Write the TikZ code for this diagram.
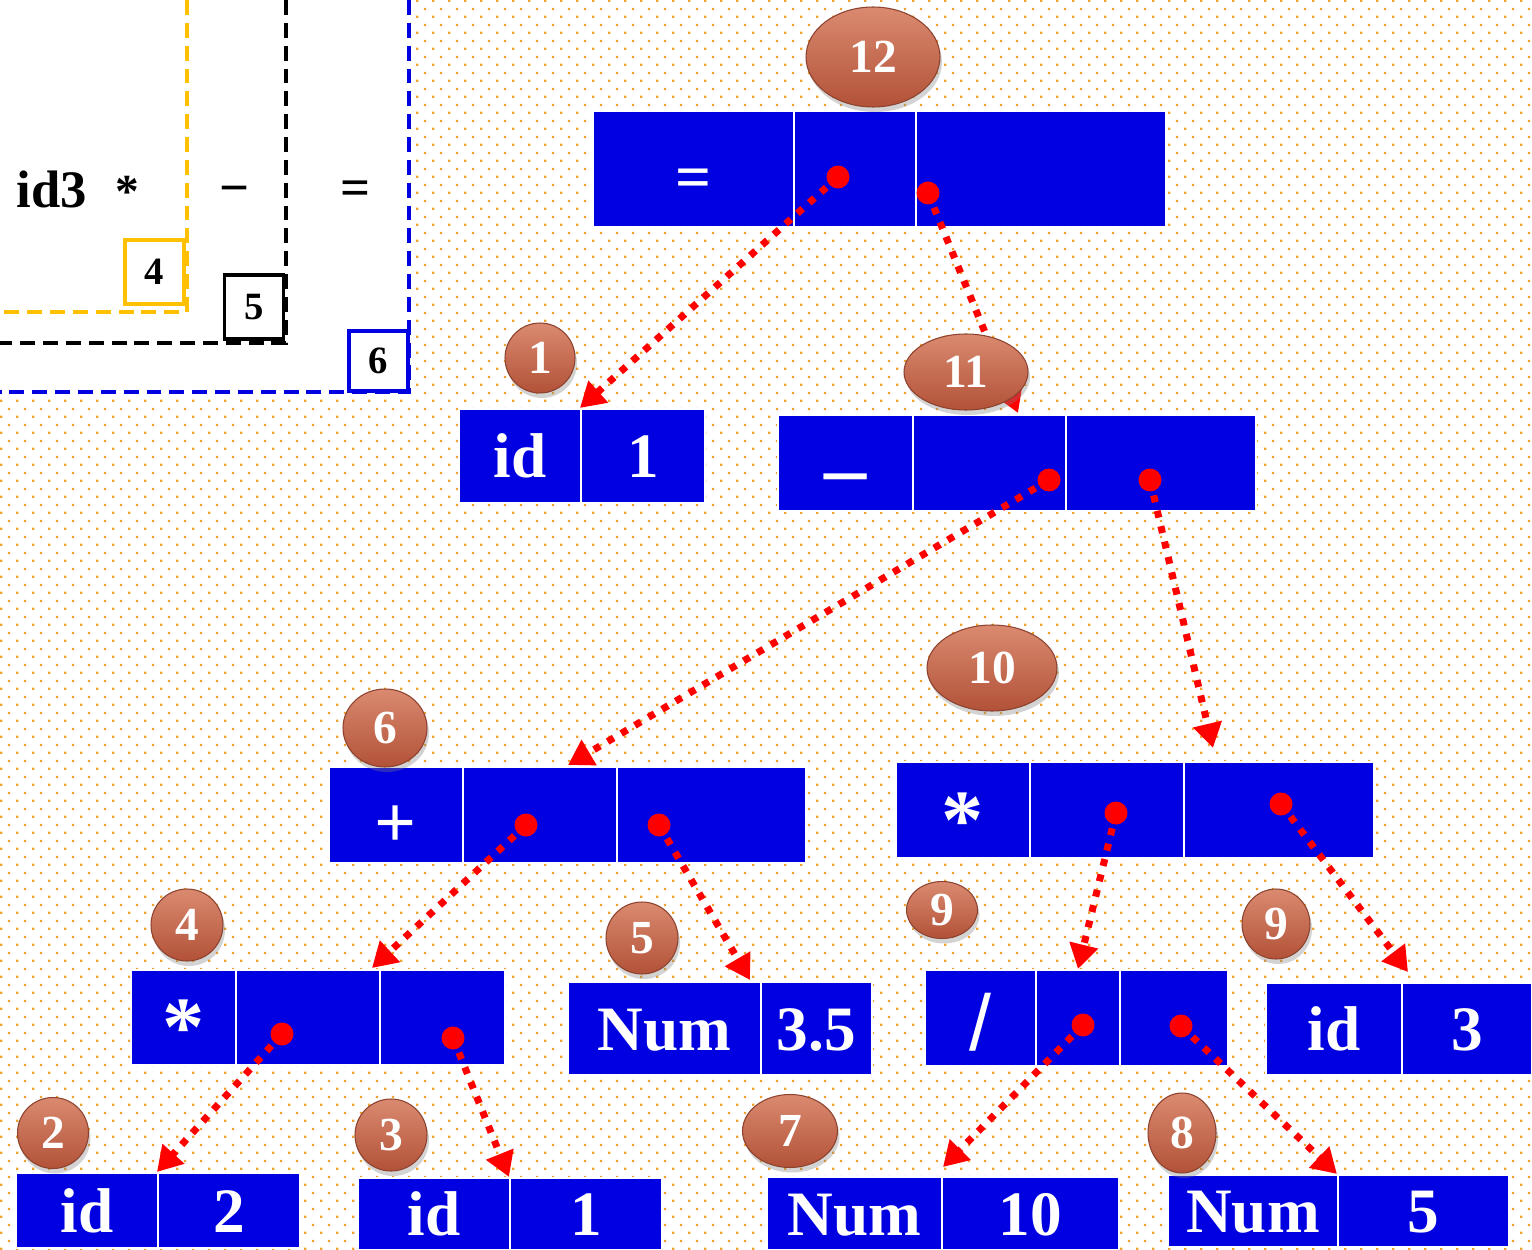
\documentclass[tikz,border=0pt]{standalone}
\usepackage{fontspec}
\setmainfont{Liberation Serif}
\newfontfamily\arialfam{Liberation Sans}
\usepackage{tikz}
\usetikzlibrary{arrows.meta}
\usetikzlibrary{shapes,shadows,patterns}
\usepackage{xcolor}

\definecolor{recblue}{RGB}{0,0,225}
\definecolor{dotorange}{RGB}{238,162,48}
\definecolor{tagyellow}{RGB}{255,192,0}
\definecolor{bubtop}{RGB}{218,138,112}
\definecolor{bubbot}{RGB}{178,82,56}
\definecolor{bubrim}{RGB}{140,66,46}

% small orange dots on a staggered grid
\pgfdeclarepatternformonly{orange dots}{\pgfqpoint{0pt}{0pt}}{\pgfqpoint{9.07pt}{9.07pt}}{\pgfqpoint{9.07pt}{9.07pt}}{%
  \pgfpathrectangle{\pgfqpoint{0pt}{0pt}}{\pgfqpoint{1.3pt}{1.3pt}}%
  \pgfpathrectangle{\pgfqpoint{4.535pt}{4.535pt}}{\pgfqpoint{1.3pt}{1.3pt}}%
  \pgfusepath{fill}}

\tikzset{
    cell/.style={
        rectangle,
        fill=recblue,
        draw=white,
        line width=1.2pt,
        inner sep=0pt,
        text=white,
        text height=24.5pt,
        text depth=0pt,
        font=\fontsize{36}{40}\selectfont\bfseries
    },
    ptr/.style={
        circle,
        fill=red,
        minimum size=0.46cm,
        inner sep=0pt
    },
    link/.style={
        draw=red,
        line width=4pt,
        dash pattern=on 4pt off 5pt,
        -{Triangle[length=14pt, width=16pt]}
    }
}

\begin{document}
\begin{tikzpicture}[
    x=0.02cm, y=-0.02cm,
    bubble/.style = {ellipse, top color=bubtop, bottom color=bubbot, draw=bubrim,
        line width=0.6pt, inner sep=0pt, text=white,
        font=\fontsize{27}{30}\selectfont\bfseries,
        drop shadow={shadow xshift=0.04cm, shadow yshift=-0.1cm, opacity=0.35}},
    tag/.style = {rectangle, fill=white, line width=2.2pt, inner sep=0pt,
        minimum width=1.18cm, minimum height=1.28cm,
        font=\fontsize{22}{24}\selectfont\bfseries},
    fence/.style = {line width=2.8pt, dash pattern=on 8.5pt off 4.5pt},
    expr/.style = {inner sep=0pt, font=\fontsize{30}{32}\selectfont\bfseries}
]
\useasboundingbox (0,0) rectangle (1532,1250);
% dotted paper, white corner for the expression
\path[pattern=orange dots, pattern color=dotorange] (0,0) rectangle (1532,1250);
\fill[white] (0,0) rectangle (411,396);

% Nested boxes of the expression
\draw[fence, tagyellow] (187,0) -- (187,312) -- (0,312);
\draw[fence, black] (286,0) -- (286,343) -- (0,343);
\draw[fence, recblue] (409,0) -- (409,392) -- (0,392);
\node[tag, draw=tagyellow] (k4) at (154.5,272) {4};
\node[tag, draw=black] (k5) at (254,307) {5};
\node[tag, draw=recblue, minimum height=1.2cm] (k6) at (378.5,361) {6};
\node[expr, anchor=base] (e1) at (52,208) {id3};
\node[expr, anchor=base, font=\fontsize{27}{30}\selectfont\bfseries] (e2) at (127,208) {*};
\node[expr, anchor=base] (e3) at (235,206) {−};
\node[expr, anchor=base] (e4) at (356,206) {=};

% Records of the tree
% =
\node[cell, minimum width=4.02cm, minimum height=2.32cm] (n12a) at (693.5,169) {\raisebox{-0.13em}{=}};
\node[cell, minimum width=2.44cm, minimum height=2.32cm] (n12b) at (855,169) {};
\node[cell, minimum width=5cm, minimum height=2.32cm] (n12c) at (1041,169) {};
% id 1
\node[cell, minimum width=2.44cm, minimum height=1.88cm] (n1a) at (520,456) {id};
\node[cell, minimum width=2.48cm, minimum height=1.88cm] (n1b) at (643,456) {1};
% -
\node[cell, minimum width=2.7cm, minimum height=1.92cm] (n11a) at (845.5,463) {\fontsize{48}{50}\selectfont\raisebox{-0.14em}{–}};
\node[cell, minimum width=3.06cm, minimum height=1.92cm] (n11b) at (989.5,463) {};
\node[cell, minimum width=3.8cm, minimum height=1.92cm] (n11c) at (1161,463) {};
% +
\node[cell, minimum width=2.68cm, minimum height=1.92cm] (n6a) at (396,815) {\fontsize{42}{44}\selectfont\raisebox{-0.15em}{+}};
\node[cell, minimum width=3.08cm, minimum height=1.92cm] (n6b) at (540,815) {};
\node[cell, minimum width=3.78cm, minimum height=1.92cm] (n6c) at (711.5,815) {};
% * (right)
\node[cell, minimum width=2.68cm, minimum height=1.92cm] (n10a) at (963,810) {\fontsize{48}{50}\selectfont\raisebox{-0.2em}{*}};
\node[cell, minimum width=3.08cm, minimum height=1.92cm] (n10b) at (1107,810) {};
\node[cell, minimum width=3.8cm, minimum height=1.92cm] (n10c) at (1279,810) {};
% * (left)
\node[cell, minimum width=2.1cm, minimum height=1.9cm] (n4a) at (183.5,1017.5) {\fontsize{48}{50}\selectfont\raisebox{-0.2em}{*}};
\node[cell, minimum width=2.88cm, minimum height=1.9cm] (n4b) at (308,1017.5) {};
\node[cell, minimum width=2.5cm, minimum height=1.9cm] (n4c) at (442.5,1017.5) {};
% Num 3.5
\node[cell, minimum width=3.86cm, minimum height=1.86cm] (n5a) at (664.5,1028.5) {Num};
\node[cell, minimum width=2.22cm, minimum height=1.86cm] (n5b) at (816.5,1028.5) {3.5};
% /
\node[cell, minimum width=2.22cm, minimum height=1.92cm] (n9a) at (980.5,1018) {\arialfam\mdseries\fontsize{45}{48}\selectfont\raisebox{-0.14em}{/}};
\node[cell, minimum width=1.68cm, minimum height=1.92cm] (n9b) at (1078,1018) {};
\node[cell, minimum width=2.16cm, minimum height=1.92cm] (n9c) at (1174,1018) {};
% id 3
\node[cell, minimum width=2.72cm, minimum height=1.84cm] (m9a) at (1334,1029) {id};
\node[cell, minimum width=2.6cm, minimum height=1.84cm] (m9b) at (1467,1029) {3};
% id 2
\node[cell, minimum width=2.84cm, minimum height=1.5cm] (n2a) at (87,1210.5) {id};
\node[cell, minimum width=2.84cm, minimum height=1.5cm] (n2b) at (229,1210.5) {2};
% id 1
\node[cell, minimum width=3.04cm, minimum height=1.44cm] (n3a) at (434,1214) {id};
\node[cell, minimum width=3.04cm, minimum height=1.44cm] (n3b) at (586,1214) {1};
% Num 10
\node[cell, minimum width=3.5cm, minimum height=1.46cm] (n7a) at (854.5,1213.5) {Num};
\node[cell, minimum width=3.54cm, minimum height=1.46cm] (n7b) at (1030.5,1213.5) {10};
% Num 5
\node[cell, minimum width=3.4cm, minimum height=1.44cm] (n8a) at (1253,1211) {Num};
\node[cell, minimum width=3.42cm, minimum height=1.44cm] (n8b) at (1423.5,1211) {5};

% Pointer fields
\node[ptr] (d12a) at (838,177) {};
\node[ptr] (d12b) at (928,193) {};
\node[ptr] (d11a) at (1049,480) {};
\node[ptr] (d11b) at (1150,480) {};
\node[ptr] (d6a) at (526,825) {};
\node[ptr] (d6b) at (659,825) {};
\node[ptr] (d10a) at (1116,813) {};
\node[ptr] (d10b) at (1281,804) {};
\node[ptr] (d4a) at (282,1034) {};
\node[ptr] (d4b) at (453,1038) {};
\node[ptr] (d9a) at (1083,1025) {};
\node[ptr] (d9b) at (1181,1026) {};

% Where the pointers land
\coordinate (t11) at (1018,413);
\coordinate (t6) at (568,765);
\coordinate (t10) at (1213,748);
\coordinate (t4) at (372,968);
\coordinate (t5) at (750,980);
\coordinate (m9t) at (1408,972);
\coordinate (t7) at (943,1167);

\draw[link] (d12a.center) -- (n1b.north west);
\draw[link] (d12b.center) -- (t11);
\draw[link] (d11a.center) -- (t6);
\draw[link] (d11b.center) -- (t10);
\draw[link] (d6a.center) -- (t4);
\draw[link] (d6b.center) -- (t5);
\draw[link] (d10a.center) -- (n9b.north);
\draw[link] (d10b.center) -- (m9t);
\draw[link] (d4a.center) -- (n2b.north west);
\draw[link] (d4b.center) -- (n3b.north west);
\draw[link] (d9a.center) -- (t7);
\draw[link] (d9b.center) -- (n8b.north west);

% Step numbers
\node[bubble, minimum width=2.68cm, minimum height=2cm] (b12) at (873,57) {12};
\node[bubble, minimum width=1.4cm, minimum height=1.4cm] (b1) at (540,358) {1};
\node[bubble, minimum width=2.48cm, minimum height=1.52cm] (b11) at (966,372) {11};
\node[bubble, minimum width=2.6cm, minimum height=1.72cm] (b10) at (992,668) {10};
\node[bubble, minimum width=1.68cm, minimum height=1.56cm] (b6) at (385,728) {6};
\node[bubble, minimum width=1.44cm, minimum height=1.44cm] (b4) at (187,925) {4};
\node[bubble, minimum width=1.44cm, minimum height=1.44cm] (b5) at (642,938) {5};
\node[bubble, minimum width=1.42cm, minimum height=1.14cm] (b9) at (942,910) {9};
\node[bubble, minimum width=1.36cm, minimum height=1.4cm] (b9r) at (1276,924) {9};
\node[bubble, minimum width=1.42cm, minimum height=1.42cm] (b2) at (53,1133) {2};
\node[bubble, minimum width=1.44cm, minimum height=1.44cm] (b3) at (391,1135) {3};
\node[bubble, minimum width=1.9cm, minimum height=1.46cm] (b7) at (790,1131) {7};
\node[bubble, minimum width=1.36cm, minimum height=1.6cm] (b8) at (1182,1133) {8};

\end{tikzpicture}
\end{document}
